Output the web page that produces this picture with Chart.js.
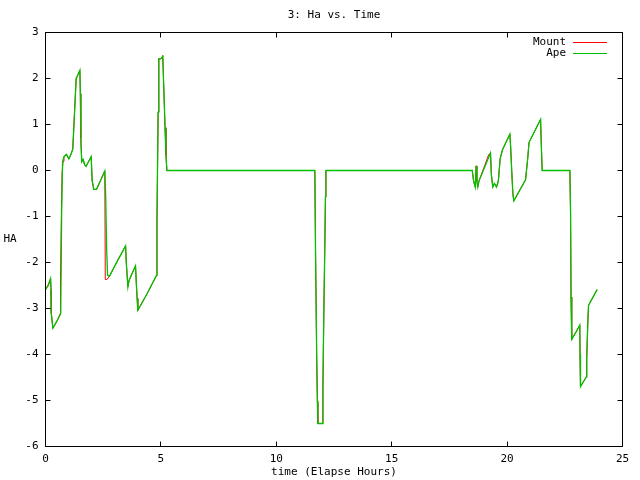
<!DOCTYPE html>
<html>
<head>
<meta charset="utf-8">
<script src="https://cdn.jsdelivr.net/npm/chart.js@4/dist/chart.umd.min.js"></script>
<style>
  body { margin: 0; background: #fff; }
  canvas { display: block; }
</style>
</head>
<body>
<canvas id="haChart" width="640" height="480"></canvas>
<script>
// Ape track (elapsed hours, hour angle)
const hours = [
  0.00, 0.12, 0.22, 0.24, 0.25, 0.32, 0.50, 0.66, 0.70, 0.74, 0.80, 0.91, 1.01, 1.10, 1.18,
  1.22, 1.29, 1.33, 1.42, 1.49, 1.51, 1.53, 1.57, 1.63, 1.70, 1.76, 1.85, 1.98, 2.02, 2.09,
  2.21, 2.40, 2.57, 2.61, 2.65, 2.69, 2.77, 3.10, 3.47, 3.50, 3.57, 3.62, 3.90, 3.94, 3.97,
  4.00, 4.40, 4.81, 4.83, 4.88, 4.91, 5.00, 5.06, 5.08, 5.10, 5.14, 5.18, 5.22, 5.26,
  11.67, 11.70, 11.75, 11.78, 11.80, 11.99, 12.02, 12.06, 12.10, 12.13, 12.15,
  18.49, 18.55, 18.62, 18.66, 18.69, 18.73, 18.78, 19.28, 19.32, 19.38, 19.45, 19.50, 19.54,
  19.62, 19.70, 19.80, 20.12, 20.15, 20.20, 20.25, 20.29, 20.80, 20.90, 20.95, 21.45, 21.48,
  21.52, 22.72, 22.75, 22.77, 22.80, 23.00, 23.15, 23.16, 23.18, 23.43, 23.45, 23.50, 23.53, 23.90
];
const ape = [
  -2.59, -2.50, -2.35, -2.60, -3.10, -3.43, -3.27, -3.11, -0.90, 0.19, 0.30, 0.35, 0.25, 0.35, 0.46,
  0.86, 1.60, 2.00, 2.10, 2.18, 1.67, 0.70, 0.19, 0.24, 0.12, 0.09, 0.18, 0.30, -0.21, -0.41,
  -0.41, -0.20, -0.01, -0.60, -1.73, -2.28, -2.30, -1.98, -1.64, -2.00, -2.53, -2.39, -2.07, -2.50, -2.78,
  -3.04, -2.68, -2.28, -1.08, 1.27, 2.43, 2.43, 2.47, 2.50, 2.18, 1.56, 0.93, 0.33, 0.00,
  0.00, -1.77, -4.05, -5.00, -5.50, -5.50, -4.67, -3.07, -1.71, -0.57, 0.00,
  0.00, -0.23, -0.36, 0.10, -0.23, -0.36, -0.23, 0.38, -0.10, -0.36, -0.28, -0.32, -0.36,
  -0.23, 0.26, 0.45, 0.79, 0.55, 0.00, -0.50, -0.66, -0.20, 0.30, 0.61, 1.11, 0.60,
  0.00, 0.00, -0.94, -2.75, -3.67, -3.50, -3.36, -4.00, -4.70, -4.49, -4.09, -3.25, -2.93, -2.59
];

// Mount track, nearly the same, differing on the fast swings
const mountHours = [
  0.00, 0.12, 0.22, 0.24, 0.25, 0.32, 0.50, 0.64, 0.65, 0.69, 0.72, 0.76, 0.80, 0.91, 1.01, 1.10, 1.18,
  1.22, 1.29, 1.33, 1.42, 1.49, 1.51, 1.53, 1.57, 1.63, 1.70, 1.76, 1.85, 1.98, 2.02, 2.09,
  2.21, 2.40, 2.57, 2.59, 2.66, 2.77, 3.10, 3.47, 3.50, 3.57, 3.62, 3.90, 3.94, 3.97,
  4.00, 4.40, 4.81, 4.83, 4.88, 4.91, 5.00, 5.06, 5.08, 5.10, 5.14, 5.18, 5.22, 5.26,
  11.67, 11.70, 11.75, 11.78, 11.80, 11.99, 12.02, 12.06, 12.10, 12.13, 12.15,
  18.49, 18.55, 18.62, 18.66, 18.69, 18.73, 18.78, 19.20, 19.28, 19.32, 19.38, 19.45, 19.50, 19.54,
  19.62, 19.70, 19.80, 20.12, 20.15, 20.20, 20.25, 20.29, 20.80, 20.90, 20.95, 21.45, 21.48,
  21.52, 22.72, 22.75, 22.77, 22.80, 23.00, 23.15, 23.16, 23.18, 23.43, 23.45, 23.50, 23.53, 23.90
];
const mount = [
  -2.59, -2.48, -2.35, -2.60, -3.10, -3.43, -3.27, -3.11, -2.34, -0.90, -0.05, 0.20, 0.30, 0.35, 0.25, 0.35, 0.46,
  0.86, 1.60, 2.00, 2.10, 2.18, 1.67, 0.70, 0.19, 0.24, 0.12, 0.09, 0.18, 0.30, -0.21, -0.41,
  -0.41, -0.20, -0.01, -2.37, -2.37, -2.30, -1.98, -1.64, -2.00, -2.53, -2.39, -2.07, -2.50, -2.78,
  -3.04, -2.68, -2.28, -1.08, 1.27, 2.43, 2.43, 2.47, 2.50, 2.18, 1.56, 0.93, 0.33, 0.00,
  0.00, -1.77, -4.05, -5.03, -5.50, -5.50, -4.67, -3.07, -1.71, -0.57, 0.00,
  0.00, -0.23, -0.36, 0.10, -0.23, -0.36, -0.23, 0.34, 0.38, -0.10, -0.36, -0.28, -0.32, -0.36,
  -0.23, 0.26, 0.45, 0.79, 0.55, 0.00, -0.50, -0.66, -0.20, 0.30, 0.61, 1.11, 0.60,
  0.00, 0.00, -0.94, -2.75, -3.67, -3.50, -3.36, -4.00, -4.70, -4.49, -4.09, -3.25, -2.93, -2.59
];

const xTicks = [0, 5, 10, 15, 20, 25];
const yTicks = [-6, -5, -4, -3, -2, -1, 0, 1, 2, 3];

const FONT = '11px "DejaVu Sans Mono", "Liberation Mono", monospace';

const frame = {
  id: 'frame',
  afterDraw(chart) {
    const {ctx, chartArea: {left, right, top, bottom}} = chart;
    const xs = chart.scales.x, ys = chart.scales.y;
    const l = Math.floor(left) + 0.5, r = Math.floor(right) + 0.5;
    const t = Math.floor(top) + 0.5, b = Math.floor(bottom) + 0.5;
    ctx.save();
    ctx.strokeStyle = '#000';
    ctx.lineWidth = 1;
    ctx.beginPath();
    ctx.rect(l, t, r - l, b - t);
    // inward ticks, mirrored
    xTicks.forEach(v => {
      const px = Math.floor(xs.getPixelForValue(v)) + 0.5;
      ctx.moveTo(px, b); ctx.lineTo(px, b - 5);
      ctx.moveTo(px, t); ctx.lineTo(px, t + 5);
    });
    yTicks.forEach(v => {
      const py = Math.floor(ys.getPixelForValue(v)) + 0.5;
      ctx.moveTo(l, py); ctx.lineTo(l + 5, py);
      ctx.moveTo(r, py); ctx.lineTo(r - 5, py);
    });
    ctx.stroke();

    // texts
    ctx.fillStyle = '#000';
    ctx.font = FONT;
    ctx.textBaseline = 'middle';
    ctx.textAlign = 'center';
    const cx = (left + right) / 2;
    ctx.fillText('3: Ha vs. Time', cx, 15);
    ctx.fillText('time (Elapse Hours)', cx, 472);
    ctx.fillText('HA', 10, 239);

    // legend, gnuplot style: label then sample line
    ctx.textAlign = 'right';
    const items = [['Mount', '#ff0000', 42], ['Ape', '#00c000', 53]];
    items.forEach(([name, col, y]) => {
      ctx.fillStyle = '#000';
      ctx.fillText(name, 566, y);
      ctx.strokeStyle = col;
      ctx.beginPath();
      ctx.moveTo(573, y + 0.5);
      ctx.lineTo(607, y + 0.5);
      ctx.stroke();
    });
    ctx.restore();
  }
};

new Chart(document.getElementById('haChart'), {
  type: 'line',
  data: {
    datasets: [
      {
        label: 'Ape',
        data: hours.map((h, i) => ({x: h, y: ape[i]})),
        borderColor: '#00c000',
        borderWidth: 1.3,
        pointRadius: 0,
        tension: 0,
        order: 1
      },
      {
        label: 'Mount',
        data: mountHours.map((h, i) => ({x: h, y: mount[i]})),
        borderColor: '#ff0000',
        borderWidth: 1,
        pointRadius: 0,
        tension: 0,
        order: 2
      }
    ]
  },
  options: {
    responsive: false,
    animation: false,
    layout: { padding: { top: 32.5, right: 17.5, left: 0.5, bottom: 0 } },
    plugins: { legend: { display: false }, tooltip: { enabled: false } },
    scales: {
      x: {
        type: 'linear',
        min: 0, max: 25,
        afterFit: s => { s.height = 33.5; },
        afterBuildTicks: s => { s.ticks = xTicks.map(v => ({value: v})); },
        grid: { display: false, drawTicks: false },
        border: { display: false },
        ticks: { color: '#000', font: { family: '"DejaVu Sans Mono"', size: 11 }, padding: 6, maxRotation: 0 }
      },
      y: {
        min: -6, max: 3,
        afterFit: s => { s.width = 45; },
        afterBuildTicks: s => { s.ticks = yTicks.map(v => ({value: v})); },
        grid: { display: false, drawTicks: false },
        border: { display: false },
        ticks: { color: '#000', font: { family: '"DejaVu Sans Mono"', size: 11 }, padding: 7 }
      }
    }
  },
  plugins: [frame]
});
</script>
</body>
</html>
